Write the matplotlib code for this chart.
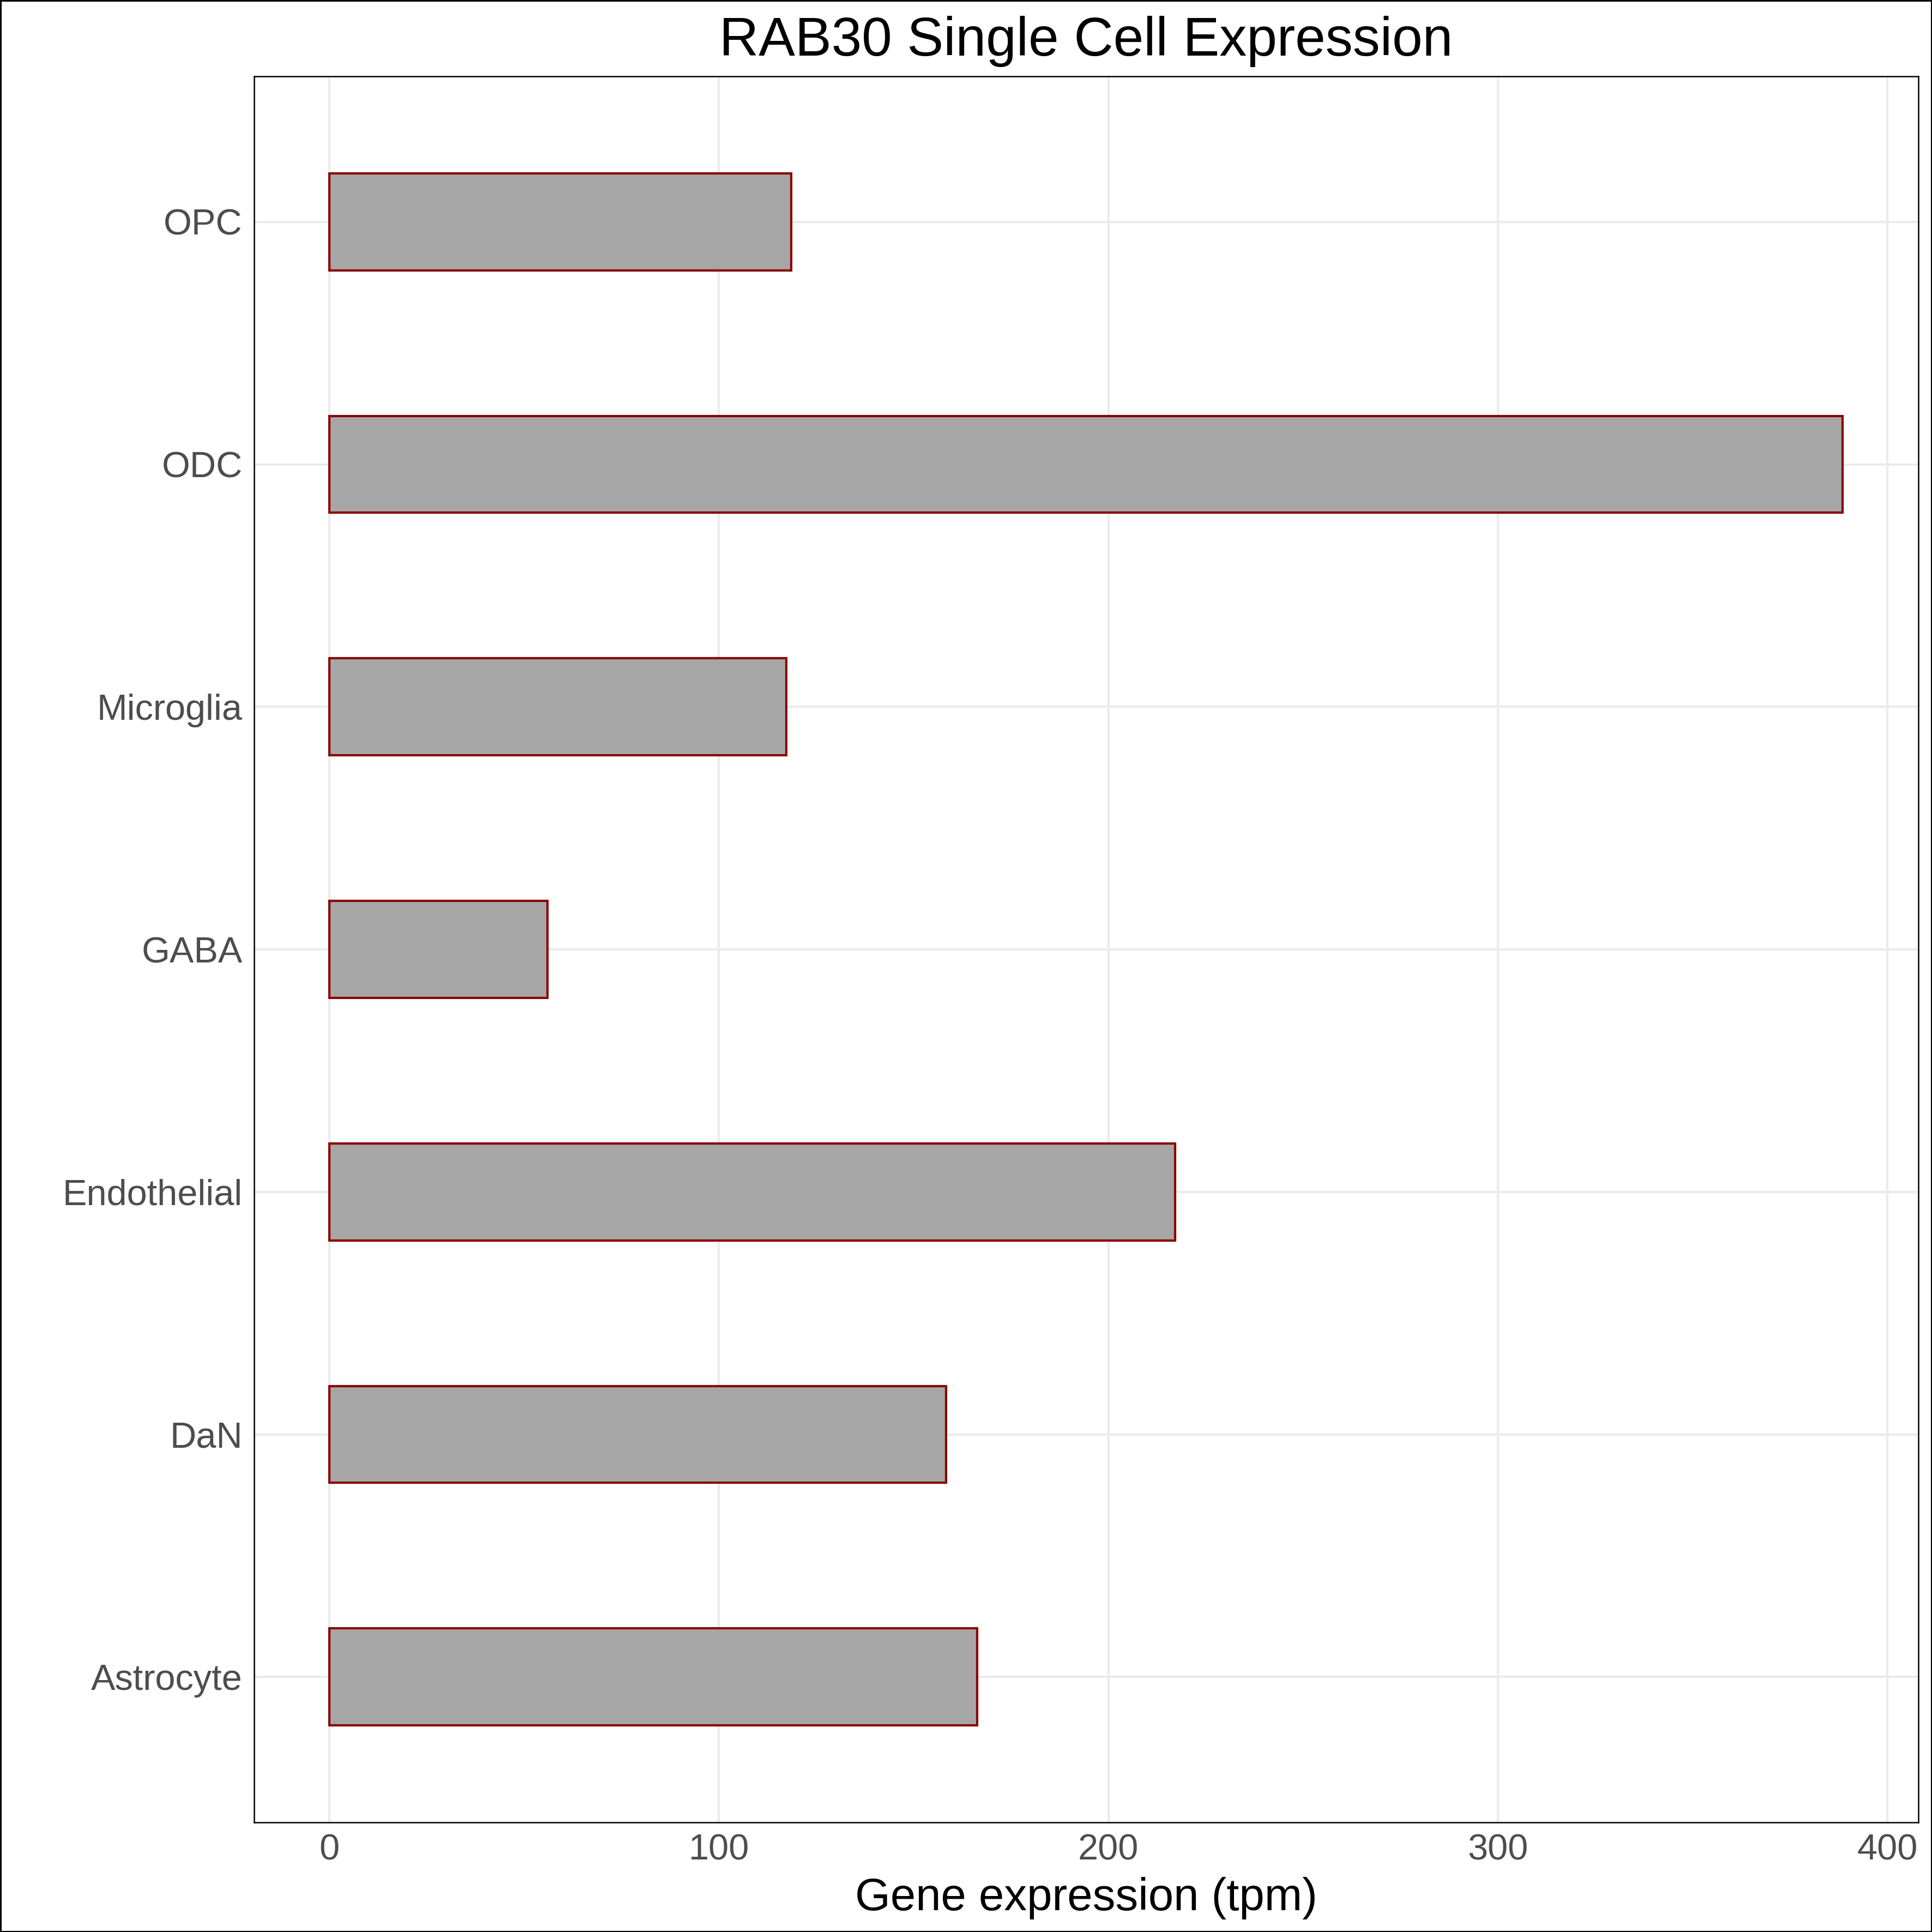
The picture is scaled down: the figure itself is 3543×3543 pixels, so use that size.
import numpy as np
import matplotlib.pyplot as plt

# Dữ liệu
cell_types = ["Astrocyte", "DaN", "Endothelial", "GABA", "Microglia", "ODC", "OPC"]
tpm = [166.3, 158.4, 217.2, 56.0, 117.3, 388.6, 118.6]
x_ticks = [0, 100, 200, 300, 400]

plt.rcParams['font.family'] = ['Liberation Sans', 'DejaVu Sans']

fig = plt.figure(figsize=(3543 / 300, 3543 / 300), dpi=300)
fig.patch.set_edgecolor("black")
fig.patch.set_linewidth(1.2)
ax = fig.add_axes([0.1314, 0.0567, 0.993 - 0.1314, 0.9605 - 0.0567])

y = np.arange(len(cell_types))
ax.barh(y, tpm, height=0.4, color="#A6A6A6", edgecolor="#8B0000",
        linewidth=1.0, zorder=3)

# Trục, lưới kiểu ggplot theme_bw
span = max(tpm)
ax.set_xlim(-0.05 * span, span * 1.05)
ax.set_ylim(-0.6, len(cell_types) - 0.4)
ax.set_xticks(x_ticks)
ax.set_yticks(y)
ax.set_yticklabels(cell_types)
ax.grid(True, color="#EBEBEB", linewidth=1.0, zorder=0)
ax.set_axisbelow(True)
ax.tick_params(length=0, labelsize=16, labelcolor="#4D4D4D", pad=5)
for s in ax.spines.values():
    s.set_linewidth(0.6)
    s.set_color("black")

ax.set_xlabel("Gene expression (tpm)", fontsize=20, labelpad=4)
ax.set_title("RAB30 Single Cell Expression", fontsize=24, pad=9)

fig.savefig("out.png", dpi=300)
